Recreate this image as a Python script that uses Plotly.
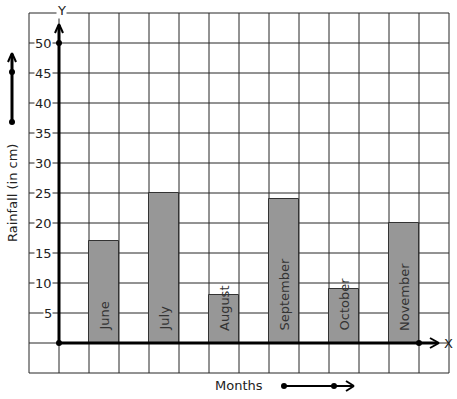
import plotly.graph_objects as go

months = ["June", "July", "August", "September", "October", "November"]
rainfall = [17, 25, 8, 24, 9, 20]
bar_x = [1.5, 3.5, 5.5, 7.5, 9.5, 11.5]
y_ticks = [5, 10, 15, 20, 25, 30, 35, 40, 45, 50]

W, H = 457, 399
# pixel mapping: x=0 at px 59, 30px per unit; y=0 at py 343, 6px per unit
x0px, xs = 59, 30
y0px, ys = 343, 6
xr = [-x0px / xs, (W - x0px) / xs]
yr = [-(H - y0px) / ys, y0px / ys]

FONT = "DejaVu Sans"
GRID = "#262626"

fig = go.Figure()
fig.add_trace(go.Bar(x=bar_x, y=rainfall, width=1,
                     marker=dict(color="#979797", line=dict(color="#333333", width=1)),
                     hoverinfo="skip"))

shapes = []
# grid
for gx in range(-1, 14):
    shapes.append(dict(type="line", x0=gx, x1=gx, y0=-5, y1=55, layer="below",
                       line=dict(color=GRID, width=1)))
for gy in range(-5, 56, 5):
    shapes.append(dict(type="line", x0=-1, x1=13, y0=gy, y1=gy, layer="below",
                       line=dict(color=GRID, width=1)))

def line(xa, ya, xb, yb, w=3):
    shapes.append(dict(type="line", x0=xa, y0=ya, x1=xb, y1=yb, layer="above",
                       line=dict(color="black", width=w)))

def dot(x, y, r=3):
    shapes.append(dict(type="circle", x0=x - r / xs, x1=x + r / xs, y0=y - r / ys, y1=y + r / ys,
                       layer="above", fillcolor="black", line=dict(color="black", width=0)))

def px2x(p):
    return (p - x0px) / xs

def py2y(p):
    return (y0px - p) / ys

# Y axis with arrow
line(0, 0, 0, py2y(25))
line(0, py2y(24), px2x(55), py2y(33), 2)
line(0, py2y(24), px2x(63), py2y(33), 2)
dot(0, 50)
dot(0, 0)
# X axis with arrow
line(0, 0, px2x(437), 0)
line(px2x(439), 0, px2x(430), py2y(338), 2)
line(px2x(439), 0, px2x(430), py2y(348), 2)
dot(px2x(419), 0)
# left vertical arrow
line(px2x(12), py2y(122), px2x(12), py2y(54))
line(px2x(12), py2y(53), px2x(8), py2y(62), 2)
line(px2x(12), py2y(53), px2x(16), py2y(62), 2)
dot(px2x(12), py2y(122))
dot(px2x(12), py2y(72))
# months arrow
line(px2x(284), py2y(386), px2x(352), py2y(386), 2)
line(px2x(354), py2y(386), px2x(346), py2y(381), 2)
line(px2x(354), py2y(386), px2x(346), py2y(391), 2)
dot(px2x(284), py2y(386))
dot(px2x(334), py2y(386))

ann = []
for t in y_ticks:
    ann.append(dict(x=-0.2, y=t, text=str(t), showarrow=False, xanchor="right", yanchor="middle",
                    bgcolor="white", borderpad=0, font=dict(family=FONT, size=13, color="#222")))
for xm, m in zip(bar_x, months):
    ann.append(dict(x=xm, y=py2y(333), text=m, showarrow=False, textangle=-90,
                    xanchor="center", yanchor="bottom",
                    font=dict(family=FONT, size=13, color="#333")))
ann.append(dict(x=px2x(61), y=py2y(10), text="Y", showarrow=False, bgcolor="white", borderpad=0,
                font=dict(family=FONT, size=13, color="#222")))
ann.append(dict(x=px2x(448), y=0, text="X", showarrow=False,
                font=dict(family=FONT, size=13, color="#222")))
ann.append(dict(x=px2x(12), y=py2y(193), text="Rainfall (in cm)", showarrow=False, textangle=-90,
                font=dict(family=FONT, size=13, color="#222")))
ann.append(dict(x=px2x(239), y=py2y(385), text="Months", showarrow=False,
                font=dict(family=FONT, size=13, color="#222")))

fig.update_layout(
    width=W, height=H, margin=dict(l=0, r=0, t=0, b=0),
    paper_bgcolor="white", plot_bgcolor="white", showlegend=False,
    xaxis=dict(range=xr, visible=False, fixedrange=True),
    yaxis=dict(range=yr, visible=False, fixedrange=True),
    shapes=shapes, annotations=ann, bargap=0,
)
fig.write_html("out.html", config={"displayModeBar": False})
